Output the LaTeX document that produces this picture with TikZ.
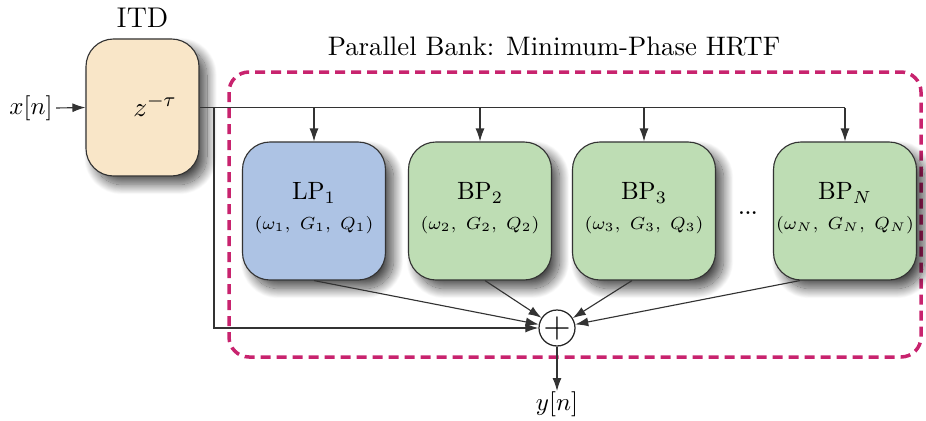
\documentclass[tikz,border=0pt]{standalone}
\usetikzlibrary{arrows.meta,shadows.blur,calc}

\definecolor{itdfill}{HTML}{F9E6C8}
\definecolor{lpfill}{HTML}{ADC3E4}
\definecolor{bpfill}{HTML}{BEDDB4}
\definecolor{bankline}{HTML}{C8236E}
\definecolor{wire}{HTML}{333333}

\tikzset{
  blockbox/.style={draw=black!80, line width=0.45pt, rounded corners=11pt,
    minimum width=57.2pt, minimum height=55.2pt, inner sep=0pt,
    blur shadow={shadow xshift=3.2pt, shadow yshift=-3.4pt,
      shadow blur radius=4pt, shadow blur steps=24, shadow opacity=70}},
  wireline/.style={draw=wire, line width=0.45pt},
  flow/.style={wireline, -{Latex[length=5.2pt,width=3.6pt]}},
  blocktitle/.style={font=\normalsize, inner sep=0pt},
  blockparams/.style={font=\fontsize{7.3}{8.6}\selectfont, inner sep=0pt},
}

\begin{document}
\begin{tikzpicture}[x=0.4pt, y=-0.4pt]
  \useasboundingbox (0,0) rectangle (926,420);

  % parallel bank frame and caption
  \draw[bankline, line width=1.4pt, dash pattern=on 4pt off 2.4pt, rounded corners=8pt]
    (229,72) rectangle (921,357);
  \node[font=\fontsize{10.7}{13}\selectfont, inner sep=0pt] (banktitle) at (554,47)
    {Parallel Bank: Minimum-Phase HRTF};

  % interaural time delay
  \node[blockbox, fill=itdfill, minimum width=45.2pt, minimum height=54.8pt] (itd) at (142.5,107.5) {};
  \node[font=\fontsize{11.4}{13}\selectfont, inner sep=0pt] (itdlabel) at (142.5,18) {ITD};
  \node[font=\fontsize{11.4}{13}\selectfont, inner sep=0pt] (delay) at (155,105) {$z^{-\tau}$};
  \node[inner sep=0pt] (xin) at (31,108) {$x[n]$};

  % filter bank
  \node[blockbox, fill=lpfill] (lp)  at (314,211) {};
  \node[blockbox, fill=bpfill] (bp2) at (480,211) {};
  \node[blockbox, fill=bpfill] (bp3) at (644,211) {};
  \node[blockbox, fill=bpfill] (bpN) at (845,211) {};

  \node[blocktitle]  (lpt)  at ($(lp)+(0,-18)$)  {LP$_1$};
  \node[blockparams] (lpp)  at ($(lp)+(0,14)$)   {$(\omega_1,\; G_1,\; Q_1)$};
  \node[blocktitle]  (bp2t) at ($(bp2)+(0,-18)$) {BP$_2$};
  \node[blockparams] (bp2p) at ($(bp2)+(0,14)$)  {$(\omega_2,\; G_2,\; Q_2)$};
  \node[blocktitle]  (bp3t) at ($(bp3)+(0,-18)$) {BP$_3$};
  \node[blockparams] (bp3p) at ($(bp3)+(0,14)$)  {$(\omega_3,\; G_3,\; Q_3)$};
  \node[blocktitle]  (bpNt) at ($(bpN)+(0,-18)$) {BP$_N$};
  \node[blockparams] (bpNp) at ($(bpN)+(0,14)$)  {$(\omega_N,\; G_N,\; Q_N)$};
  \node[font=\fontsize{7}{8}\selectfont\bfseries, inner sep=0pt, anchor=base] (gap) at (748,214) {...};

  % summing junction and output
  \node[draw=black!85, line width=0.5pt, circle, minimum size=13.2pt, inner sep=0pt, fill=white]
    (sum) at (557,328) {\Large$+$};
  \node[inner sep=0pt] (yout) at (557,404) {$y[n]$};

  % input and distribution bus
  \draw[flow] (xin.east) ++(3,0) coordinate (xtail) (xtail) -- (itd.west);
  \coordinate (tap) at (214,108);
  \draw[wireline] (itd.east) -- (bpN.north |- itd.east);
  \draw[flow] (lp.north  |- itd.east) -- (lp.north);
  \draw[flow] (bp2.north |- itd.east) -- (bp2.north);
  \draw[flow] (bp3.north |- itd.east) -- (bp3.north);
  \draw[flow] (bpN.north |- itd.east) -- (bpN.north);
  \draw[flow] (tap) |- (sum.west);

  % branch outputs into the sum
  \draw[flow] (lp.south) -- (sum);
  \draw[flow] ($(bp2.south)+(5,0)$) -- (sum);
  \draw[flow] ($(bp3.south)+(-12,0)$) -- (sum);
  \draw[flow] ($(bpN.south)+(-45,0)$) -- (sum);
  \draw[flow] (sum.south) -- (yout.north);
\end{tikzpicture}
\end{document}
